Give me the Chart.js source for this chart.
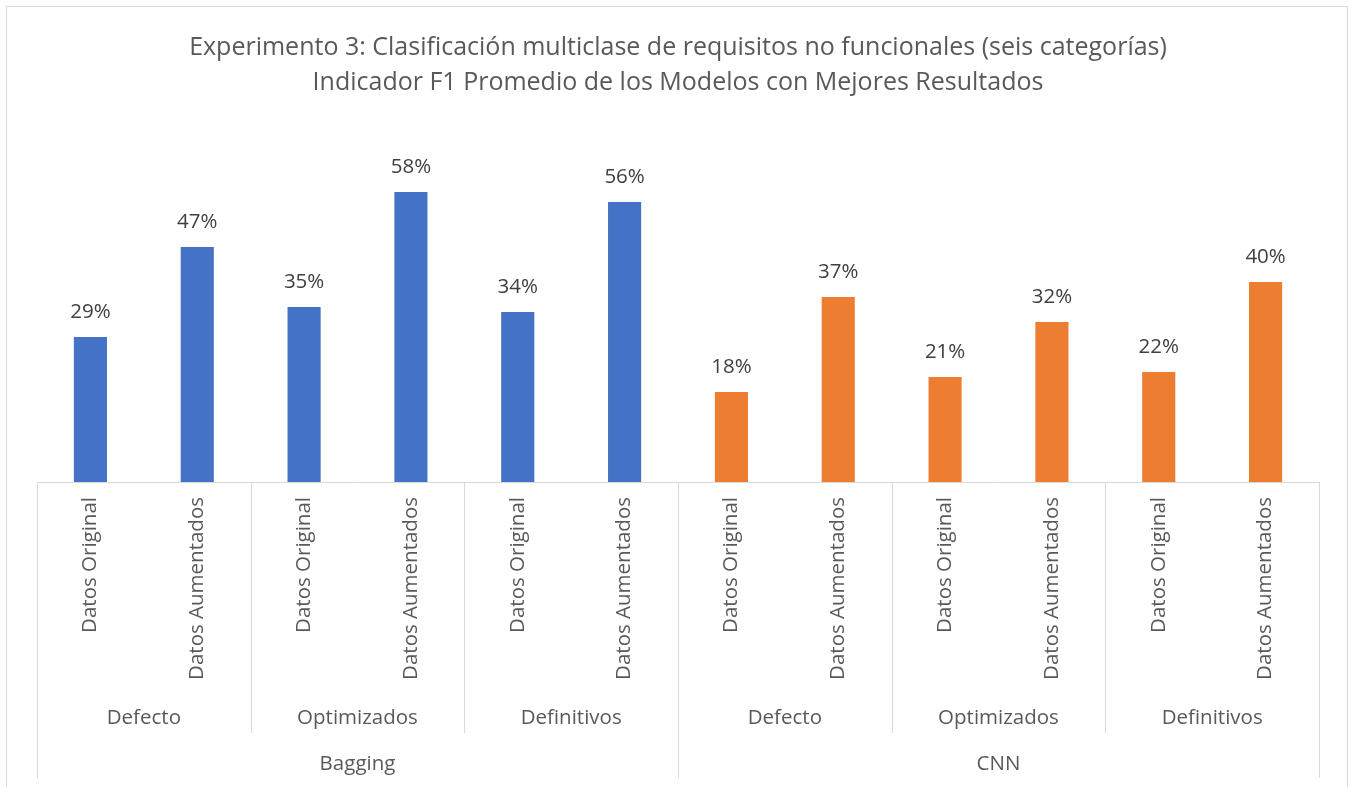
<!DOCTYPE html>
<html lang="es">
<head>
    <meta charset="UTF-8">
    <title>Experimento 3 - F1 promedio</title>
    <script src="https://cdn.jsdelivr.net/npm/chart.js"></script>
    <style>
        body { margin: 0; background: #fff; }
        .chart-box { position: relative; width: 1354px; height: 787px; }
    </style>
</head>
<body>
    <div class="chart-box">
        <canvas id="f1Chart"></canvas>
    </div>

    <script>
        // data
        const categories = ['Datos Original', 'Datos Aumentados', 'Datos Original', 'Datos Aumentados',
            'Datos Original', 'Datos Aumentados', 'Datos Original', 'Datos Aumentados',
            'Datos Original', 'Datos Aumentados', 'Datos Original', 'Datos Aumentados'];
        const configs = ['Defecto', 'Optimizados', 'Definitivos', 'Defecto', 'Optimizados', 'Definitivos'];
        const models = ['Bagging', 'CNN'];
        const f1Values = [29, 47, 35, 58, 34, 56, 18, 37, 21, 32, 22, 40];
        const modelColors = ['#4472C4', '#ED7D31'];

        const textColor = '#595959';
        const lineColor = '#d9d9d9';
        const fontFamily = "'Open Sans', 'Noto Sans', sans-serif";

        const barColors = f1Values.map((v, i) => modelColors[Math.floor(i / 6)]);

        // multi level axis, frame and value labels
        const axisPlugin = {
            id: 'multiLevelAxis',
            afterDraw(chart) {
                const ctx = chart.ctx;
                const x = chart.scales.x;
                const area = chart.chartArea;
                const half = (x.getPixelForValue(1) - x.getPixelForValue(0)) / 2;
                const edge = i => (i < categories.length ? x.getPixelForValue(i) - half : x.getPixelForValue(i - 1) + half);
                const base = area.bottom;

                ctx.save();
                // outer frame
                ctx.strokeStyle = lineColor;
                ctx.lineWidth = 1;
                ctx.strokeRect(6.5, 6.5, chart.width - 13, chart.height + 10);

                // base line
                ctx.beginPath();
                ctx.moveTo(area.left, base + 0.5);
                ctx.lineTo(area.right, base + 0.5);
                // separators
                for (let i = 0; i <= categories.length; i += 2) {
                    const px = Math.round(edge(i)) + 0.5;
                    const long = i % 6 === 0;
                    ctx.moveTo(px, base);
                    ctx.lineTo(px, base + (long ? 296 : 251));
                }
                ctx.stroke();

                ctx.fillStyle = textColor;
                ctx.font = '20.5px ' + fontFamily;

                // category labels, rotated
                categories.forEach((c, i) => {
                    ctx.save();
                    ctx.translate(x.getPixelForValue(i), base + 15);
                    ctx.rotate(-Math.PI / 2);
                    ctx.textAlign = 'right';
                    ctx.textBaseline = 'middle';
                    ctx.fillText(c, 0, 0);
                    ctx.restore();
                });

                ctx.textAlign = 'center';
                ctx.textBaseline = 'middle';
                configs.forEach((c, j) => {
                    ctx.fillText(c, (edge(j * 2) + edge(j * 2 + 2)) / 2, base + 236);
                });
                models.forEach((m, k) => {
                    ctx.fillText(m, (edge(k * 6) + edge(k * 6 + 6)) / 2, base + 282);
                });

                // value labels
                ctx.fillStyle = '#404040';
                ctx.font = '20.5px ' + fontFamily;
                chart.getDatasetMeta(0).data.forEach((bar, i) => {
                    ctx.fillText(f1Values[i] + '%', bar.x, bar.y - 25);
                });
                ctx.restore();
            }
        };

        new Chart(document.getElementById('f1Chart'), {
            type: 'bar',
            data: {
                labels: categories,
                datasets: [{
                    label: 'F1 promedio',
                    data: f1Values,
                    backgroundColor: barColors,
                    barPercentage: 0.31,
                    categoryPercentage: 1
                }]
            },
            options: {
                responsive: true,
                maintainAspectRatio: false,
                animation: false,
                layout: {
                    padding: { left: 37, right: 35, bottom: 305, top: 0 }
                },
                plugins: {
                    legend: { display: false },
                    tooltip: { enabled: false },
                    title: {
                        display: true,
                        text: ['Experimento 3: Clasificación multiclase de requisitos no funcionales (seis categorías)',
                            'Indicador F1 Promedio de los Modelos con Mejores Resultados'],
                        color: textColor,
                        font: { family: fontFamily, size: 25, weight: 'normal', lineHeight: 1.4 },
                        padding: { top: 30, bottom: 32 }
                    }
                },
                scales: {
                    x: { display: false },
                    y: { display: false, min: 0, max: 70 }
                }
            },
            plugins: [axisPlugin]
        });
    </script>
</body>
</html>
